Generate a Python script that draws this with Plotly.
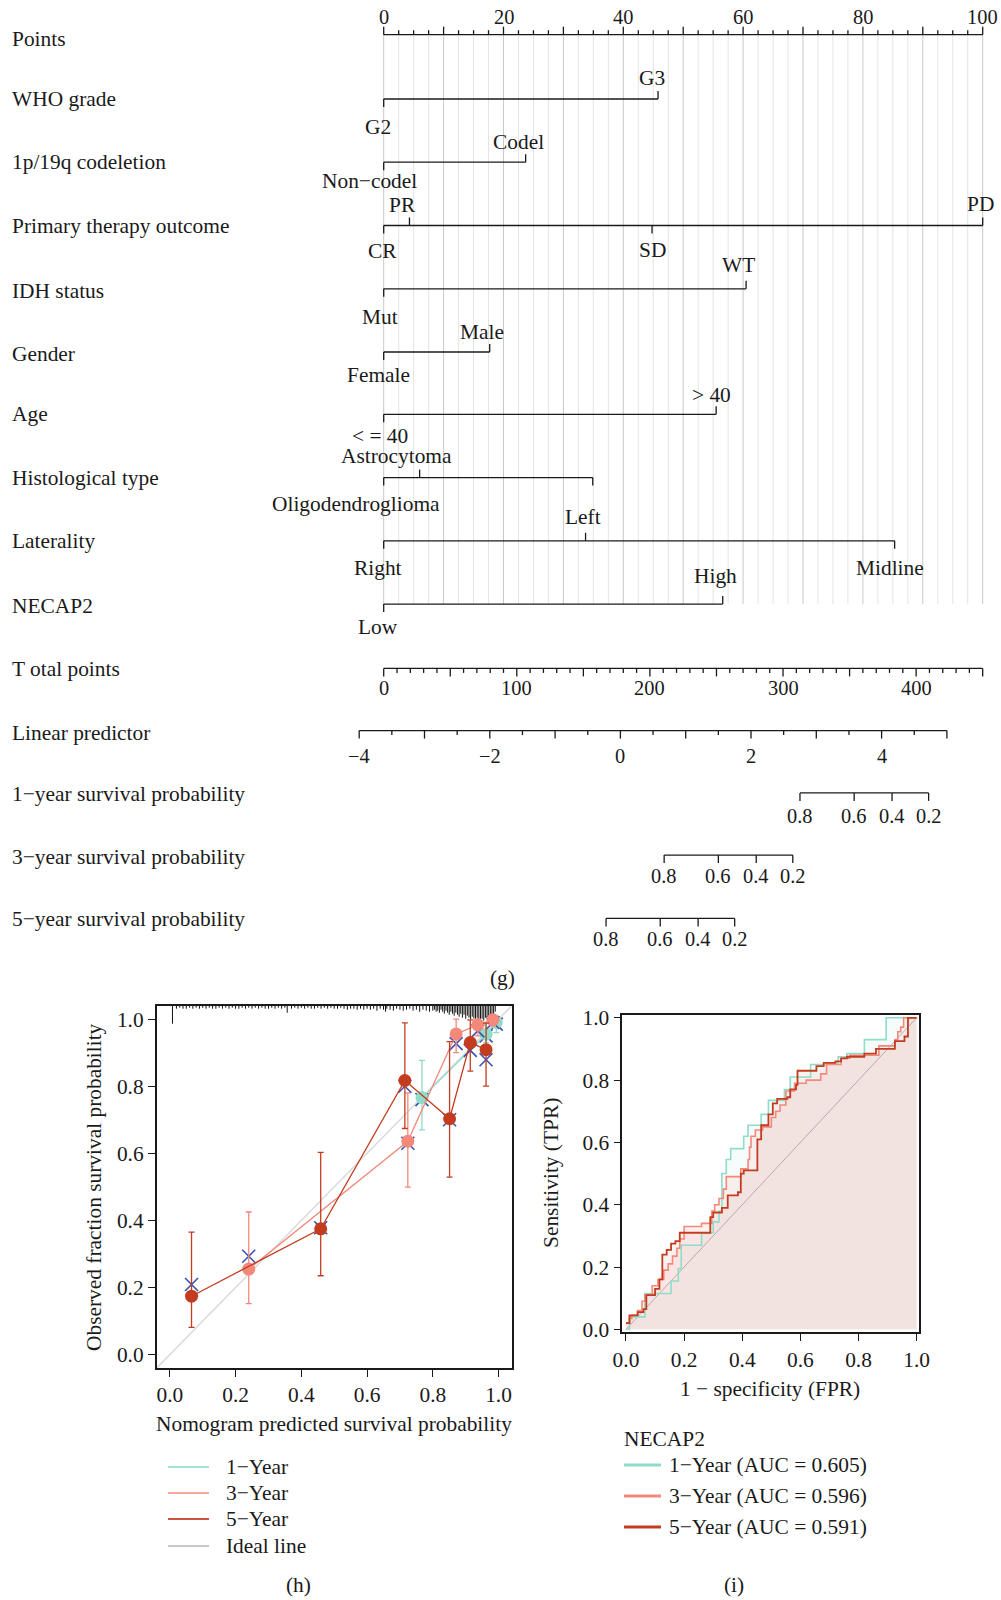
import plotly.graph_objects as go

# ======================= DATA =======================
# ---- nomogram (g) ----
row_names = ["Points", "WHO grade", "1p/19q codeletion", "Primary therapy outcome",
             "IDH status", "Gender", "Age", "Histological type", "Laterality", "NECAP2",
             "T otal points", "Linear predictor", "1−year survival probability",
             "3−year survival probability", "5−year survival probability"]

points_ticks = [0, 20, 40, 60, 80, 100]

who_levels = ["G2", "G3"]
who_points = [0, 45.8]
codel_levels = ["Non−codel", "Codel"]
codel_points = [0, 23.7]
therapy_levels = ["CR", "PR", "SD", "PD"]
therapy_points = [0, 4.3, 44.8, 100]
idh_levels = ["Mut", "WT"]
idh_points = [0, 60.5]
gender_levels = ["Female", "Male"]
gender_points = [0, 17.7]
age_levels = ["< = 40", "> 40"]
age_points = [0, 55.5]
histo_levels = ["Oligodendroglioma", "Astrocytoma", ""]
histo_points = [0, 6.0, 34.9]
lat_levels = ["Right", "Left", "Midline"]
lat_points = [0, 33.7, 85.3]
necap_levels = ["Low", "High"]
necap_points = [0, 56.6]

total_ticks = [0, 100, 200, 300, 400]
total_max = 450
lp_ticks = [-4, -2, 0, 2, 4]
lp_min, lp_max = -4, 5
surv_labels = ["0.8", "0.6", "0.4", "0.2"]
surv1_lp = [2.75, 3.58, 4.16, 4.72]
surv3_lp = [0.67, 1.50, 2.08, 2.64]
surv5_lp = [-0.22, 0.61, 1.19, 1.75]

# ---- calibration (h) ----
cal1_pred = [0.767, 0.962, 0.993]
cal1_obs = [0.766, 0.955, 0.990]
cal1_hi = [0.877, 0.990, 1.000]
cal1_lo = [0.670, 0.930, 0.960]
cal1_corr = [0.760, 0.950, 0.985]

cal3_pred = [0.240, 0.724, 0.871, 0.937, 0.983]
cal3_obs = [0.255, 0.636, 0.956, 0.983, 0.998]
cal3_hi = [0.425, 0.780, 1.000, 1.000, 1.000]
cal3_lo = [0.152, 0.499, 0.900, 0.950, 0.980]
cal3_corr = [0.293, 0.630, 0.927, 0.965, 0.990]

cal5_pred = [0.066, 0.459, 0.715, 0.851, 0.914, 0.962]
cal5_obs = [0.174, 0.375, 0.817, 0.703, 0.930, 0.909]
cal5_hi = [0.365, 0.603, 0.989, 0.933, 0.998, 0.988]
cal5_lo = [0.081, 0.235, 0.674, 0.529, 0.845, 0.800]
cal5_corr = [0.209, 0.378, 0.800, 0.700, 0.907, 0.879]

rug_pred = [0.008, 0.02, 0.03, 0.04, 0.05, 0.06, 0.07, 0.08, 0.09, 0.10,
            0.11, 0.12, 0.13, 0.14, 0.15, 0.16, 0.17, 0.18, 0.19, 0.20,
            0.21, 0.22, 0.23, 0.24, 0.25, 0.26, 0.27, 0.28, 0.29, 0.30,
            0.31, 0.32, 0.33, 0.34, 0.35, 0.357, 0.37, 0.38, 0.39, 0.40,
            0.41, 0.42, 0.43, 0.44, 0.45, 0.46, 0.47, 0.48, 0.49, 0.50,
            0.51, 0.52, 0.53, 0.54, 0.55, 0.56, 0.57, 0.58, 0.59, 0.60,
            0.61, 0.62, 0.63, 0.64, 0.65, 0.656, 0.66, 0.67, 0.68, 0.69,
            0.70, 0.71, 0.72, 0.73, 0.74, 0.75, 0.76, 0.77, 0.78, 0.79,
            0.80, 0.805, 0.81, 0.815, 0.82, 0.825, 0.83, 0.835, 0.84, 0.845,
            0.85, 0.855, 0.86, 0.865, 0.87, 0.875, 0.88, 0.885, 0.89, 0.895,
            0.90, 0.905, 0.91, 0.915, 0.92, 0.925, 0.93, 0.935, 0.94, 0.945,
            0.95, 0.955, 0.96, 0.965, 0.97, 0.975, 0.98, 0.985, 0.99]
rug_freq = [18, 3, 2, 3, 3, 2, 3, 2, 3, 2,
            3, 2, 3, 3, 2, 3, 2, 3, 2, 3,
            3, 2, 3, 2, 3, 2, 3, 2, 3, 3,
            2, 3, 2, 3, 2, 7, 3, 2, 3, 2,
            3, 2, 3, 3, 2, 3, 2, 3, 2, 3,
            3, 2, 3, 4, 3, 3, 4, 3, 4, 3,
            4, 3, 5, 3, 4, 6, 3, 4, 5, 3,
            4, 5, 4, 3, 5, 4, 6, 4, 5, 6,
            5, 4, 6, 5, 7, 4, 6, 8, 5, 7,
            9, 6, 8, 10, 7, 9, 11, 8, 12, 9,
            13, 10, 12, 14, 11, 13, 15, 12, 14, 16,
            13, 15, 12, 14, 11, 13, 10, 9, 6]

# ---- ROC (i) : corner points of step curves (fpr, tpr) ----
roc1_fpr = [0, 0.012, 0.065, 0.155, 0.18, 0.19, 0.26, 0.30, 0.32, 0.33, 0.345, 0.36,
            0.405, 0.42, 0.465, 0.49, 0.545, 0.565, 0.635, 0.70, 0.73, 0.76, 0.82, 0.895, 1.0]
roc1_tpr = [0, 0.04, 0.115, 0.155, 0.195, 0.27, 0.31, 0.345, 0.38, 0.50, 0.545, 0.58,
            0.62, 0.655, 0.69, 0.735, 0.77, 0.81, 0.85, 0.855, 0.875, 0.885, 0.93, 1.0, 1.0]
roc3_fpr = [0, 0.012, 0.02, 0.04, 0.055, 0.065, 0.09, 0.11, 0.13, 0.145, 0.16, 0.175,
            0.185, 0.20, 0.26, 0.295, 0.305, 0.32, 0.335, 0.345, 0.395, 0.42, 0.425, 0.43,
            0.445, 0.47, 0.50, 0.515, 0.53, 0.55, 0.58, 0.62, 0.67, 0.69, 0.74, 0.77,
            0.87, 0.925, 0.935, 0.945, 0.955, 1.0]
roc3_tpr = [0.02, 0.035, 0.045, 0.06, 0.09, 0.11, 0.14, 0.16, 0.19, 0.21, 0.235, 0.26,
            0.29, 0.33, 0.34, 0.38, 0.40, 0.42, 0.45, 0.49, 0.515, 0.545, 0.585, 0.62,
            0.64, 0.65, 0.68, 0.70, 0.72, 0.765, 0.79, 0.80, 0.82, 0.85, 0.87, 0.88,
            0.91, 0.93, 0.955, 0.97, 1.0, 1.0]
roc5_fpr = [0, 0.012, 0.04, 0.06, 0.07, 0.10, 0.115, 0.125, 0.14, 0.155, 0.17, 0.185,
            0.29, 0.30, 0.33, 0.35, 0.385, 0.395, 0.405, 0.452, 0.465, 0.49, 0.505, 0.52,
            0.555, 0.565, 0.585, 0.59, 0.655, 0.68, 0.72, 0.74, 0.76, 0.82, 0.86, 0.925,
            0.958, 0.97, 1.0]
roc5_tpr = [0.02, 0.045, 0.055, 0.065, 0.11, 0.13, 0.16, 0.24, 0.255, 0.275, 0.283, 0.31,
            0.36, 0.375, 0.39, 0.43, 0.44, 0.50, 0.51, 0.61, 0.655, 0.69, 0.725, 0.74,
            0.745, 0.77, 0.785, 0.83, 0.845, 0.855, 0.86, 0.87, 0.875, 0.885, 0.90, 0.925,
            0.94, 1.0, 1.0]
roc_names = ["1−Year (AUC = 0.605)", "3−Year (AUC = 0.596)", "5−Year (AUC = 0.591)"]
cal_names = ["1−Year", "3−Year", "5−Year", "Ideal line"]

# ======================= STYLE / LAYOUT =======================
W, H = 1001, 1600
FONT = "Liberation Serif"
INK = "#1a1a1a"
FS = 21.4
C1, C3, C5 = "#8fdcc8", "#f4887b", "#c33c20"
BLUE = "#3a52b0"

# nomogram pixel geometry
PT0, PT_PX = 383.7, 5.99          # px of 0 points, px per point
LP0, LP_PX = 620.4, 65.3          # px of LP = 0, px per LP unit
x_range = [-PT0 / PT_PX, (W - PT0) / PT_PX]
x2_range = [r * total_max / 100 for r in x_range]
x3_range = [-LP0 / LP_PX, (W - LP0) / LP_PX]

row_y = [34.7, 99.0, 162.2, 225.5, 288.8, 352.0, 414.3, 477.6, 540.8, 604.1,
         668.4, 730.6, 792.9, 855.1, 918.4]
row_label_y = [38.8, 99.0, 162.2, 225.5, 290.8, 354.1, 414.3, 477.6, 540.8, 606.1,
               669.4, 732.7, 793.9, 857.1, 919.4]

factor_rows = [
    (who_levels, who_points, [-0.9, 44.8], [27.5, -21.4]),
    (codel_levels, codel_points, [-2.4, 22.5], [18.4, -20.4]),
    (therapy_levels, therapy_points, [-0.2, 3.2, 44.8, 99.7], [25.5, -20.4, 24.5, -21.4]),
    (idh_levels, idh_points, [-0.7, 59.3], [28.5, -23.5]),
    (gender_levels, gender_points, [-0.9, 16.4], [22.5, -20.4]),
    (age_levels, age_points, [-0.7, 54.7], [22.0, -19.4]),
    (histo_levels, histo_points, [-4.6, 2.2, 34.9], [26.5, -21.3, 0]),
    (lat_levels, lat_points, [-1.0, 33.2, 84.5], [27.6, -23.5, 27.6]),
    (necap_levels, necap_points, [-1.0, 55.4], [22.4, -28.6]),
]

fig = go.Figure()
ann = []
shapes = []


def add_lines(xs, ys, color, width, xa="x", ya="y"):
    fig.add_trace(go.Scatter(x=xs, y=ys, mode="lines", xaxis=xa, yaxis=ya,
                             line=dict(color=color, width=width),
                             hoverinfo="skip", showlegend=False))


def text(x, y, s, xref="x", yref="y", xanchor="center", yanchor="middle", size=FS, angle=0):
    ann.append(dict(x=x, y=y, xref=xref, yref=yref, text=s, showarrow=False,
                    xanchor=xanchor, yanchor=yanchor, textangle=angle,
                    font=dict(family=FONT, size=size, color=INK)))


def px2paper_x(px):
    return px / W


def px2paper_y(py):
    return 1 - py / H


TICK = 8
MINOR = 4.5

# ---- grid lines ----
GRID_TOP, GRID_BOT = row_y[0], row_y[9]
gl_x, gl_y, gd_x, gd_y = [], [], [], []
for i in range(41):
    v = i * 2.5
    if i % 4 == 0:
        gd_x += [v, v, None]
        gd_y += [GRID_TOP, GRID_BOT, None]
    else:
        gl_x += [v, v, None]
        gl_y += [GRID_TOP, GRID_BOT, None]
add_lines(gl_x, gl_y, "#e4e4e4", 1)
add_lines(gd_x, gd_y, "#c9c9c9", 1)

# ---- points axis ----
yP = row_y[0]
axx, axy = [0, 100, None], [yP, yP, None]
for i in range(41):
    v = i * 2.5
    L = TICK if i % 4 == 0 else MINOR
    axx += [v, v, None]
    axy += [yP, yP - L, None]
add_lines(axx, axy, INK, 1.3)
for v in points_ticks:
    text(v, 17.3, str(v), size=FS - 1)

# ---- factor rows ----
fx, fy = [], []
for k, (levels, pts, lab_x, lab_dy) in enumerate(factor_rows):
    y = row_y[k + 1]
    fx += [0, max(pts), None]
    fy += [y, y, None]
    for j, p in enumerate(pts):
        d = TICK if j % 2 == 0 else -TICK
        fx += [p, p, None]
        fy += [y, y + d, None]
        if levels[j]:
            text(lab_x[j], y + lab_dy[j], levels[j])
add_lines(fx, fy, INK, 1.3)

# ---- total points axis ----
yT = row_y[10]
tx, ty = [0, total_max, None], [yT, yT, None]
for v in range(0, total_max + 1, 10):
    L = TICK if v % 50 == 0 else MINOR
    tx += [v, v, None]
    ty += [yT, yT + L, None]
add_lines(tx, ty, INK, 1.3, xa="x2")
for v in total_ticks:
    ann.append(dict(x=v, y=687.8, xref="x2", yref="y", text=str(v), showarrow=False,
                    xanchor="center", yanchor="middle",
                    font=dict(family=FONT, size=FS - 1, color=INK)))

# ---- linear predictor axis + survival scales ----
yL = row_y[11]
lx, ly = [lp_min, lp_max, None], [yL, yL, None]
for k in range(int((lp_max - lp_min) * 2) + 1):
    v = lp_min + 0.5 * k
    L = TICK if k % 2 == 0 else MINOR
    lx += [v, v, None]
    ly += [yL, yL + L, None]
for vals, yy in [(surv1_lp, row_y[12]), (surv3_lp, row_y[13]), (surv5_lp, row_y[14])]:
    lx += [min(vals), max(vals), None]
    ly += [yy, yy, None]
    for v in vals:
        lx += [v, v, None]
        ly += [yy, yy + TICK, None]
add_lines(lx, ly, INK, 1.3, xa="x3")
for v in lp_ticks:
    lab = str(v).replace("-", "−")
    ann.append(dict(x=v, y=756.1, xref="x3", yref="y", text=lab, showarrow=False,
                    xanchor="center", yanchor="middle",
                    font=dict(family=FONT, size=FS - 1, color=INK)))
for vals, yy in [(surv1_lp, 816.3), (surv3_lp, 875.5), (surv5_lp, 938.8)]:
    for v, lab in zip(vals, surv_labels):
        ann.append(dict(x=v, y=yy, xref="x3", yref="y", text=lab, showarrow=False,
                        xanchor="center", yanchor="middle",
                        font=dict(family=FONT, size=FS - 1, color=INK)))

# ---- row names ----
for name, yy in zip(row_names, row_label_y):
    text(px2paper_x(10), yy, name, xref="paper", xanchor="left")

text(px2paper_x(503), px2paper_y(978), "(g)", xref="paper", yref="paper")

# ======================= calibration (h) =======================
XA4, YA4 = "x4", "y4"
add_lines([-0.04, 1.04], [-0.04, 1.04], "#dadada", 1.5, XA4, YA4)
rx, ry = [], []
for p, f in zip(rug_pred, rug_freq):
    rx += [p, p, None]
    ry += [1.04, 1.04 - f / 335.7, None]
add_lines(rx, ry, "#111111", 1, XA4, YA4)

for pred, obs, hi, lo, corr, col in [
        (cal1_pred, cal1_obs, cal1_hi, cal1_lo, cal1_corr, C1),
        (cal3_pred, cal3_obs, cal3_hi, cal3_lo, cal3_corr, C3),
        (cal5_pred, cal5_obs, cal5_hi, cal5_lo, cal5_corr, C5)]:
    fig.add_trace(go.Scatter(x=pred, y=corr, mode="markers", xaxis=XA4, yaxis=YA4,
                             marker=dict(symbol="x-thin", size=13,
                                         line=dict(color=BLUE, width=1.6)),
                             hoverinfo="skip", showlegend=False))
    fig.add_trace(go.Scatter(
        x=pred, y=obs, mode="lines+markers", xaxis=XA4, yaxis=YA4,
        line=dict(color=col, width=1.3),
        marker=dict(symbol="circle", size=13, color=col),
        error_y=dict(type="data", symmetric=False,
                     array=[h - o for h, o in zip(hi, obs)],
                     arrayminus=[o - l for o, l in zip(obs, lo)],
                     color=col, thickness=1.3, width=3),
        hoverinfo="skip", showlegend=False))

text(px2paper_x(94), px2paper_y(1187), "Observed fraction survival probability",
     xref="paper", yref="paper", angle=-90)
text(px2paper_x(334), px2paper_y(1424), "Nomogram predicted survival probability",
     xref="paper", yref="paper")

leg_cols_h = ["#a5e3d5", "#f7a99f", "#c9553a", "#c8c8c8"]
for name, col, yy in zip(cal_names, leg_cols_h, [1467, 1493, 1519, 1546]):
    shapes.append(dict(type="line", xref="paper", yref="paper",
                       x0=px2paper_x(168), x1=px2paper_x(209),
                       y0=px2paper_y(yy), y1=px2paper_y(yy),
                       line=dict(color=col, width=2)))
    text(px2paper_x(224), px2paper_y(yy), name, xref="paper", yref="paper", xanchor="left")
text(px2paper_x(298), px2paper_y(1585), "(h)", xref="paper", yref="paper")

# ======================= ROC (i) =======================
XA5, YA5 = "x5", "y5"
fills = [(roc1_fpr, roc1_tpr, "rgba(143,220,200,0.08)"),
         (roc3_fpr, roc3_tpr, "rgba(244,136,123,0.11)"),
         (roc5_fpr, roc5_tpr, "rgba(205,70,60,0.07)")]
for fpr, tpr, fc in fills:
    fig.add_trace(go.Scatter(x=fpr, y=tpr, mode="lines", xaxis=XA5, yaxis=YA5,
                             line=dict(width=0, shape="hv"), fill="tozeroy", fillcolor=fc,
                             hoverinfo="skip", showlegend=False))
add_lines([0, 1], [0, 1], "#b5aaaa", 1, XA5, YA5)
for fpr, tpr, col, wd in [(roc1_fpr, roc1_tpr, C1, 1.6), (roc3_fpr, roc3_tpr, C3, 1.6),
                          (roc5_fpr, roc5_tpr, C5, 1.8)]:
    fig.add_trace(go.Scatter(x=fpr, y=tpr, mode="lines", xaxis=XA5, yaxis=YA5,
                             line=dict(color=col, width=wd, shape="hv"),
                             hoverinfo="skip", showlegend=False))

text(px2paper_x(551), px2paper_y(1173), "Sensitivity (TPR)", xref="paper", yref="paper", angle=-90)
text(px2paper_x(770), px2paper_y(1389), "1 − specificity (FPR)", xref="paper", yref="paper")
text(px2paper_x(622), px2paper_y(1439), "NECAP2", xref="paper", yref="paper", xanchor="left")
for name, col, yy in zip(roc_names, [C1, C3, C5], [1465, 1496, 1527]):
    shapes.append(dict(type="line", xref="paper", yref="paper",
                       x0=px2paper_x(624), x1=px2paper_x(661),
                       y0=px2paper_y(yy), y1=px2paper_y(yy),
                       line=dict(color=col, width=3)))
    text(px2paper_x(667), px2paper_y(yy), name, xref="paper", yref="paper", xanchor="left")
text(px2paper_x(734), px2paper_y(1585), "(i)", xref="paper", yref="paper")

# ======================= axes =======================
hidden = dict(visible=False, showgrid=False, zeroline=False, fixedrange=True, automargin=False)
frame = dict(showline=True, mirror=True, linecolor=INK, linewidth=1.5,
             ticks="outside", ticklen=7, tickwidth=1.3, tickcolor=INK,
             showgrid=False, zeroline=False, automargin=False,
             tickfont=dict(family=FONT, size=FS, color=INK))
ticks01 = [0, 0.2, 0.4, 0.6, 0.8, 1.0]
ticktxt = ["0.0", "0.2", "0.4", "0.6", "0.8", "1.0"]

fig.update_layout(
    template="none",
    width=W, height=H, autosize=False,
    margin=dict(l=0, r=0, t=0, b=0, pad=0, autoexpand=False),
    paper_bgcolor="white", plot_bgcolor="rgba(0,0,0,0)", showlegend=False,
    font=dict(family=FONT, size=FS, color=INK),
    xaxis=dict(domain=[0, 1], range=x_range, anchor="y", **hidden),
    yaxis=dict(domain=[0, 1], range=[H, 0], anchor="x", **hidden),
    xaxis2=dict(range=x2_range, overlaying="x", anchor="y", **hidden),
    xaxis3=dict(range=x3_range, overlaying="x", anchor="y", **hidden),
    xaxis4=dict(domain=[px2paper_x(156.7), px2paper_x(511.7)], range=[-0.04, 1.04],
                anchor="y4", tickvals=ticks01, ticktext=ticktxt, **frame),
    yaxis4=dict(domain=[px2paper_y(1368), px2paper_y(1005.7)], range=[-0.04, 1.04],
                anchor="x4", tickvals=ticks01, ticktext=ticktxt, **frame),
    xaxis5=dict(domain=[px2paper_x(622.3), px2paper_x(919)], range=[-0.0127, 1.008],
                anchor="y5", tickvals=ticks01, ticktext=ticktxt, **frame),
    yaxis5=dict(domain=[px2paper_y(1332.3), px2paper_y(1015)], range=[-0.0096, 1.009],
                anchor="x5", tickvals=ticks01, ticktext=ticktxt, **frame),
    annotations=ann, shapes=shapes,
)

fig.write_html("out.html")
